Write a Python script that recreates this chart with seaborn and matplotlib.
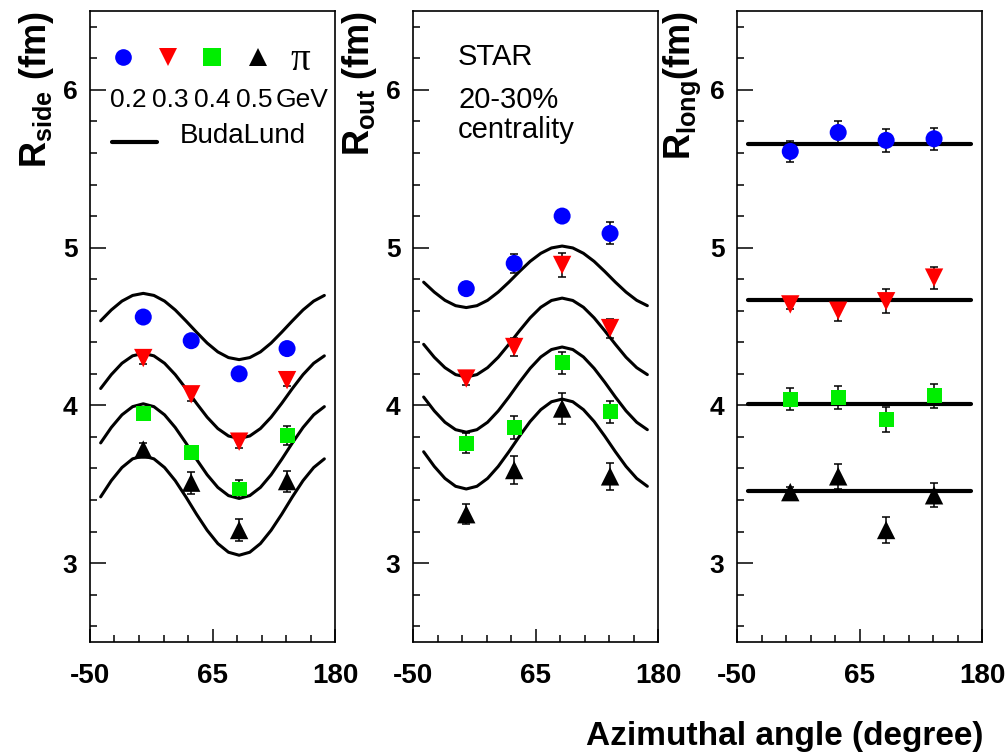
import numpy as np
import pandas as pd
import matplotlib
matplotlib.use('Agg')
import matplotlib.pyplot as plt
from matplotlib.ticker import FixedLocator, MultipleLocator
import seaborn as sns

sns.set_style('white')
plt.rcParams['font.family'] = ['Liberation Sans', 'DejaVu Sans']
plt.rcParams['mathtext.fontset'] = 'custom'
plt.rcParams['mathtext.rm'] = 'Liberation Sans:bold'
plt.rcParams['mathtext.bf'] = 'Liberation Sans:bold'
plt.rcParams['mathtext.it'] = 'Liberation Sans:bold'
plt.rcParams['axes.unicode_minus'] = False
for key in ['text.color', 'axes.labelcolor', 'xtick.color', 'ytick.color']:
    plt.rcParams[key] = 'black'

# measured points (azimuthal angle in degree)
angles = [0, 45, 90, 135]
kt_labels = ['0.2', '0.3', '0.4', '0.5']
colors = ['#0000ff', '#ff0000', '#00ee00', '#000000']
markers = ['o', 'v', 's', '^']
marker_area = [150, 175, 115, 175]

r_side = [[4.56, 4.41, 4.20, 4.36],
          [4.30, 4.07, 3.77, 4.16],
          [3.95, 3.70, 3.47, 3.81],
          [3.72, 3.51, 3.21, 3.52]]
r_side_err = [[0.03, 0.03, 0.03, 0.03],
              [0.04, 0.04, 0.04, 0.04],
              [0.04, 0.04, 0.058, 0.062],
              [0.04, 0.07, 0.07, 0.067]]

r_out = [[4.74, 4.90, 5.20, 5.09],
         [4.17, 4.37, 4.89, 4.49],
         [3.76, 3.86, 4.27, 3.96],
         [3.31, 3.59, 3.98, 3.55]]
r_out_err = [[0.04, 0.06, 0.04, 0.07],
             [0.04, 0.06, 0.075, 0.06],
             [0.065, 0.07, 0.07, 0.07],
             [0.065, 0.09, 0.10, 0.085]]

r_long = [[5.61, 5.73, 5.68, 5.69],
          [4.64, 4.60, 4.66, 4.81],
          [4.04, 4.05, 3.91, 4.06],
          [3.45, 3.55, 3.21, 3.43]]
r_long_err = [[0.065, 0.07, 0.075, 0.07],
              [0.03, 0.065, 0.075, 0.07],
              [0.07, 0.07, 0.08, 0.075],
              [0.03, 0.08, 0.08, 0.075]]

# BudaLund curves
fit_angles = [-40, -30, -20, -10, 0, 10, 20, 30, 40, 50, 60, 70, 80, 90,
              100, 110, 120, 130, 140, 150, 160, 170]
side_fit = [
    [4.536, 4.605, 4.661, 4.697, 4.710, 4.697, 4.661, 4.605, 4.536, 4.464, 4.395,
     4.339, 4.303, 4.290, 4.303, 4.339, 4.395, 4.464, 4.536, 4.605, 4.661, 4.697],
    [4.107, 4.195, 4.267, 4.314, 4.330, 4.314, 4.267, 4.195, 4.107, 4.013, 3.925,
     3.853, 3.806, 3.790, 3.806, 3.853, 3.925, 4.013, 4.107, 4.195, 4.267, 4.314],
    [3.762, 3.860, 3.940, 3.992, 4.010, 3.992, 3.940, 3.860, 3.762, 3.658, 3.560,
     3.480, 3.428, 3.410, 3.428, 3.480, 3.560, 3.658, 3.762, 3.860, 3.940, 3.992],
    [3.420, 3.523, 3.606, 3.661, 3.680, 3.661, 3.606, 3.523, 3.420, 3.310, 3.208,
     3.124, 3.069, 3.050, 3.069, 3.124, 3.208, 3.310, 3.420, 3.523, 3.606, 3.661],
]
out_fit = [
    [4.781, 4.718, 4.666, 4.632, 4.620, 4.632, 4.666, 4.718, 4.781, 4.849, 4.913,
     4.964, 4.998, 5.010, 4.998, 4.964, 4.913, 4.849, 4.781, 4.718, 4.666, 4.632],
    [4.387, 4.305, 4.239, 4.195, 4.180, 4.195, 4.239, 4.305, 4.387, 4.473, 4.555,
     4.622, 4.665, 4.680, 4.665, 4.622, 4.555, 4.473, 4.387, 4.305, 4.239, 4.195],
    [4.053, 3.965, 3.893, 3.846, 3.830, 3.846, 3.893, 3.965, 4.053, 4.147, 4.235,
     4.307, 4.354, 4.370, 4.354, 4.307, 4.235, 4.147, 4.053, 3.965, 3.893, 3.846],
    [3.706, 3.613, 3.537, 3.487, 3.470, 3.487, 3.537, 3.613, 3.706, 3.805, 3.898,
     3.973, 4.023, 4.040, 4.023, 3.973, 3.898, 3.805, 3.706, 3.613, 3.537, 3.487],
]
long_fit_angles = [-40, 170]
long_fit = [5.66, 4.67, 4.01, 3.46]

ylabels = [r'R$_\mathbf{side}$ (fm)', r'R$_\mathbf{out}$ (fm)', r'R$_\mathbf{long}$(fm)']


def points_frame(vals, errs):
    rows = []
    for k, lab in enumerate(kt_labels):
        for a, v, e in zip(angles, vals[k], errs[k]):
            rows.append({'phi': a, 'R': v, 'err': e, 'kt': lab})
    return pd.DataFrame(rows)


def fit_frame(xs, curves, flat=False):
    rows = []
    for k, lab in enumerate(kt_labels):
        ys = [curves[k]] * len(xs) if flat else curves[k]
        for a, v in zip(xs, ys):
            rows.append({'phi': a, 'R': v, 'kt': lab})
    return pd.DataFrame(rows)


panels = [
    (points_frame(r_side, r_side_err), fit_frame(fit_angles, side_fit), 2.2),
    (points_frame(r_out, r_out_err), fit_frame(fit_angles, out_fit), 2.2),
    (points_frame(r_long, r_long_err), fit_frame(long_fit_angles, long_fit, flat=True), 3.0),
]

fig = plt.figure(figsize=(10.08, 7.56), dpi=100)
W, H = 1008, 756
lefts = [90, 413, 737]
axes = [fig.add_axes([l / W, 1 - 642 / H, 245 / W, 631 / H]) for l in lefts]

for ax, (pts, fit, flw), ylab in zip(axes, panels, ylabels):
    sns.lineplot(data=fit, x='phi', y='R', units='kt', estimator=None, sort=False,
                 color='black', lw=flw, ax=ax, zorder=2)
    ax.errorbar(pts['phi'], pts['R'], yerr=pts['err'], fmt='none', ecolor='black',
                elinewidth=1.1, capsize=3, capthick=1.1, zorder=3)
    sns.scatterplot(data=pts, x='phi', y='R', hue='kt', style='kt', size='kt',
                    palette=colors, markers=markers,
                    sizes=dict(zip(kt_labels, marker_area)), linewidth=0,
                    legend=False, ax=ax, zorder=4)

    ax.set_xlim(-50, 180)
    ax.set_ylim(2.5, 6.5)
    ax.xaxis.set_major_locator(FixedLocator([-50, 65, 180]))
    ax.xaxis.set_minor_locator(FixedLocator(np.arange(-50, 181, 23)))
    ax.yaxis.set_major_locator(MultipleLocator(1))
    ax.yaxis.set_minor_locator(MultipleLocator(0.2))
    ax.tick_params(axis='y', which='major', direction='in', length=11.5, width=1.1,
                   labelsize=19, pad=9, left=True, right=False)
    ax.tick_params(axis='y', which='minor', direction='in', length=5, width=1.1,
                   left=True, right=False)
    ax.tick_params(axis='x', which='major', direction='in', length=9.5, width=1.1,
                   labelsize=20, pad=15, bottom=True, top=False)
    ax.tick_params(axis='x', which='minor', direction='in', length=5, width=1.1,
                   bottom=True, top=False)
    for t in ax.get_xticklabels() + ax.get_yticklabels():
        t.set_fontweight('bold')
    for sp in ax.spines.values():
        sp.set_visible(True)
        sp.set_linewidth(1.2)
        sp.set_color('black')
    ax.set_xlabel('')
    ax.set_ylabel(ylab, fontsize=26, fontweight='bold', loc='top')
    ax.yaxis.set_label_coords(-0.14, 1.0)

# legend in the first panel
ax0 = axes[0]
key_x = [0.135, 0.318, 0.498, 0.686]
key_size = [12, 13, 13.5, 13]
for kx, c, m, ms in zip(key_x, colors, markers, key_size):
    ax0.plot([kx], [0.927], marker=m, color=c, markersize=ms, linestyle='none',
             markeredgewidth=0, transform=ax0.transAxes)
ax0.text(0.857, 0.922, 'π', transform=ax0.transAxes, ha='center', va='center',
         fontsize=28, family=['Liberation Serif', 'DejaVu Serif'])
lab_x = [0.157, 0.327, 0.498, 0.669]
for lx, lab in zip(lab_x, kt_labels):
    ax0.text(lx, 0.848, lab, transform=ax0.transAxes, ha='center', va='baseline',
             fontsize=19)
ax0.text(0.865, 0.848, 'GeV', transform=ax0.transAxes, ha='center', va='baseline',
         fontsize=19)
ax0.plot([0.09, 0.273], [0.792, 0.792], color='black', lw=3, transform=ax0.transAxes)
ax0.text(0.367, 0.791, 'BudaLund', transform=ax0.transAxes, ha='left', va='baseline',
         fontsize=20)

# STAR label in the second panel
ax1 = axes[1]
for ty, txt in zip([0.914, 0.846, 0.799], ['STAR', '20-30%', 'centrality']):
    ax1.text(0.184, ty, txt, transform=ax1.transAxes, ha='left', va='baseline',
             fontsize=21)

fig.text(983 / W, 1 - 745 / H, 'Azimuthal angle (degree)', ha='right', va='baseline',
         fontsize=24, fontweight='bold')

fig.savefig('out.png', dpi=100, facecolor='white')
